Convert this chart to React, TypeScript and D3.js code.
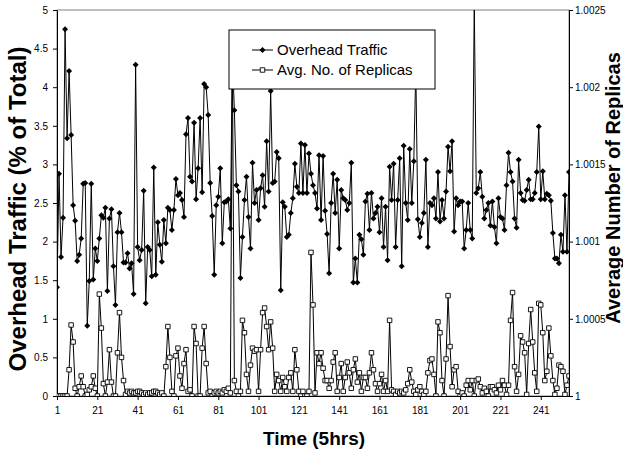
import React, { useEffect, useRef } from 'react';
import * as d3 from 'd3';

// overhead traffic, % of total (left axis), one value per 5hr period
const overhead = [
  1.41, 2.88, 1.8, 2.31, 4.75, 3.34, 4.21, 3.38, 2.47, 2.27,
  1.75, 1.83, 2.04, 2.75, 2.76, 0.91, 1.49, 2.75, 1.51, 1.91,
  1.75, 2.04, 2.34, 2.31, 2.44, 1.36, 2.3, 2.42, 1.68, 1.18,
  2.12, 2.37, 2.12, 1.73, 1.73, 1.85, 1.65, 1.72, 1.32, 4.29,
  1.93, 1.76, 1.89, 2.66, 1.2, 1.93, 1.89, 1.55, 2.96, 1.57,
  2.25, 1.96, 1.74, 2.28, 1.98, 2.44, 2.41, 2.15, 2.41, 2.81,
  2.6, 2.63, 2.54, 2.32, 3.39, 3.6, 2.84, 2.78, 3.54, 2.55,
  2.95, 3.6, 2.64, 4.04, 4.0, 3.64, 2.76, 2.33, 1.57, 2.47,
  2.58, 2.95, 1.98, 2.51, 2.52, 2.55, 2.17, 4.4, 3.7, 2.73,
  2.65, 1.53, 2.06, 2.54, 2.84, 2.32, 1.91, 3.02, 2.5, 2.67,
  2.28, 2.69, 2.86, 2.45, 3.3, 2.65, 3.95, 2.76, 2.78, 3.16,
  3.08, 1.37, 2.51, 2.45, 2.06, 2.09, 2.37, 2.56, 3.01, 2.71,
  2.63, 3.27, 2.63, 3.25, 2.63, 3.14, 2.88, 2.73, 2.63, 2.43,
  3.12, 2.28, 3.11, 2.4, 2.1, 1.59, 2.5, 2.88, 2.37, 2.8,
  1.91, 2.67, 2.56, 2.54, 2.41, 2.5, 3.02, 1.47, 1.78, 1.47,
  2.09, 2.03, 1.83, 2.52, 2.62, 2.15, 2.63, 2.3, 2.37, 2.45,
  2.12, 2.56, 1.93, 2.45, 1.76, 2.97, 2.54, 3.01, 1.93, 2.54,
  3.08, 1.68, 3.24, 2.5, 2.28, 3.2, 2.5, 3.04, 4.24, 2.29,
  2.06, 2.24, 2.37, 3.06, 1.93, 2.5, 2.47, 2.56, 2.3, 2.9,
  2.26, 2.54, 2.3, 2.65, 3.23, 2.91, 3.3, 2.13, 2.56, 2.47,
  2.52, 2.52, 1.91, 2.15, 2.5, 2.15, 2.04, 5.1, 2.63, 2.69,
  2.9, 2.58, 2.3, 2.41, 2.5, 2.21, 2.52, 2.19, 1.98, 2.56,
  2.32, 2.3, 2.15, 2.73, 3.15, 2.9, 2.78, 2.3, 2.18, 3.06,
  2.63, 2.54, 2.53, 2.67, 2.8, 2.55, 2.55, 2.63, 2.9, 3.49,
  2.55, 2.91, 2.55, 2.62, 2.6, 2.53, 2.11, 1.78, 1.78, 1.72,
  2.09, 1.87, 2.6, 1.87, 2.9
];

// average number of replicas (right axis)
const replicas = [
  1, 1, 1, 1, 1, 1, 1.00017, 1.00046, 1.00035, 1.00005,
  1, 1.00006, 1.00013, 1.00006, 1, 1.00001, 1.00004, 1.00006, 1.00013, 1.00005,
  1, 1.00066, 1.00044, 1.00008, 1, 1.00009, 1.0003, 1.00009, 1, 1,
  1.00028, 1.00054, 1.00025, 1.0001, 1.00001, 1.00003, 1.00002, 1.00003, 1.00002, 1.00002,
  1.00003, 1.00003, 1.00002, 1.00001, 1.00002, 1.00001, 1.00002, 1.00002, 1.00003, 1.00003,
  1.00002, 1.00001, 1.00002, 1, 1.00019, 1.00045, 1.00025, 1.00003, 1, 1.00026,
  1.00031, 1.00013, 1.00005, 1.00021, 1.0003, 1.00003, 1.00004, 1, 1.00045, 1.00034,
  1, 1, 1.00031, 1.00045, 1.00021, 1.00002, 1.00003, 1, 1.00002, 1.00003,
  1.00002, 1.00003, 1.00002, 1.00004, 1.00003, 1.00005, 1.00002, 1.0022, 1.0001, 1.00003,
  1, 1.00003, 1.00049, 1.00041, 1.00014, 1.00003, 1.0002, 1.00031, 1.00029, 1.0003,
  1.00003, 1.0003, 1.00054, 1.00057, 1.00045, 1.0003, 1.00048, 1.00031, 1.00003, 1.00014,
  1.0001, 1.00003, 1.00012, 1.00006, 1.00003, 1.00012, 1.00015, 1.00003, 1.0003, 1.00017,
  1.00003, 1, 1.00003, 1, 1, 1.00003, 1.00093, 1.00059, 1.00002, 1.00028,
  1.00021, 1.00028, 1.00018, 1.0001, 1.0001, 1.00005, 1.0001, 1.00022, 1.00028, 1.00003,
  1.00012, 1.00021, 1.00003, 1.00012, 1.00022, 1.00015, 1.00005, 1.00017, 1.00024, 1.00009,
  1.00015, 1.00003, 1.00012, 1.00012, 1.00005, 1.00015, 1.00028, 1.00017, 1.00008, 1.00003,
  1.00008, 1.00014, 1.00003, 1.0001, 1.00003, 1.00049, 1.00004, 1.00003, 1.00001, 1.00003,
  1.00002, 1.00003, 1.00002, 1.00004, 1.00008, 1.00017, 1.00009, 1.00003, 1.00001, 1.00004,
  1.00006, 1.00003, 1.00001, 1.00003, 1.00015, 1.00023, 1.00024, 1.00014, 1, 1.00048,
  1.00041, 1.0001, 1, 1.00024, 1.00065, 1.00032, 1.00006, 1.00017, 1.00019, 1.00003,
  1, 1.00002, 1, 1.00007, 1.0001, 1.00004, 1.0001, 1, 1.0001, 1.00011,
  1.00006, 1.00002, 1.00005, 1.00003, 1, 1.00006, 1.00006, 1.00004, 1.00002, 1.00007,
  1.00004, 1.0001, 1.00007, 1.00001, 1.00007, 1.00049, 1.00067, 1.00019, 1.00003, 1.00014,
  1.00039, 1.00035, 1.00028, 1.00001, 1.00034, 1.00056, 1.00035, 1.00015, 1.00003, 1.0006,
  1.00059, 1.00041, 1.0001, 1.00016, 1.00044, 1.00026, 1.0001, 1.00001, 1.00005, 1.0002,
  1.00019, 1.00016, 1.00001, 1.00007, 1.00013
];

const xTicks = [1, 21, 41, 61, 81, 101, 121, 141, 161, 181, 201, 221, 241];
const leftTicks = [0, 0.5, 1, 1.5, 2, 2.5, 3, 3.5, 4, 4.5, 5];
const rightTicks = [1, 1.0005, 1.001, 1.0015, 1.002, 1.0025];
const legendLabels = ['Overhead Traffic', 'Avg. No. of Replicas'];

const FONT = 'Arial, "Liberation Sans", sans-serif';

export default function App() {
  const svgRef = useRef<SVGSVGElement>(null);

  useEffect(() => {
    document.body.style.margin = '0';
    const svg = d3.select(svgRef.current);
    svg.selectAll('*').remove();

    const left = 57, right = 569, top = 10, bottom = 396;

    const x = d3.scaleLinear().domain([1, 255]).range([left, right]);
    const yL = d3.scaleLinear().domain([0, 5]).range([bottom, top]);
    const yR = d3.scaleLinear().domain([1, 1.0025]).range([bottom, top]);

    svg.append('defs').append('clipPath').attr('id', 'plot')
      .append('rect')
      .attr('x', left).attr('y', top)
      .attr('width', right - left).attr('height', bottom - top);

    // plot area border
    svg.append('rect')
      .attr('x', left).attr('y', top)
      .attr('width', right - left).attr('height', bottom - top)
      .attr('fill', 'white').attr('stroke', '#808080');

    // axes
    const styleAxis = (g) => {
      g.select('.domain').attr('stroke', 'black');
      g.selectAll('line').attr('stroke', 'black');
      g.selectAll('text').attr('font-family', FONT).attr('font-size', 10).attr('fill', 'black');
    };

    svg.append('g')
      .attr('transform', `translate(${left},0)`)
      .call(d3.axisLeft(yL).tickValues(leftTicks).tickSize(4).tickPadding(5).tickSizeOuter(0)
        .tickFormat(d3.format('')))
      .call(styleAxis);

    svg.append('g')
      .attr('transform', `translate(${right},0)`)
      .call(d3.axisRight(yR).tickValues(rightTicks).tickSize(4).tickPadding(2).tickSizeOuter(0)
        .tickFormat((d) => String(+(+d).toFixed(4))))
      .call(styleAxis);

    svg.append('g')
      .attr('transform', `translate(0,${bottom})`)
      .call(d3.axisBottom(x).tickValues(xTicks).tickSize(4).tickPadding(7).tickSizeOuter(0)
        .tickFormat(d3.format('d')))
      .call(styleAxis);

    const plot = svg.append('g').attr('clip-path', 'url(#plot)');

    const lineL = d3.line().x((d, i) => x(i + 1)).y((d) => yL(d));
    const lineR = d3.line().x((d, i) => x(i + 1)).y((d) => yR(d));

    plot.append('path').datum(replicas)
      .attr('d', lineR).attr('fill', 'none').attr('stroke', 'black').attr('stroke-width', 1);
    plot.append('path').datum(overhead)
      .attr('d', lineL).attr('fill', 'none').attr('stroke', 'black').attr('stroke-width', 1);

    const diamond = d3.symbol().type(d3.symbolSquare).size(18)();
    const square = d3.symbol().type(d3.symbolSquare).size(20)();

    plot.selectAll('.ov').data(overhead).enter().append('path')
      .attr('class', 'ov')
      .attr('d', diamond)
      .attr('transform', (d, i) => `translate(${x(i + 1)},${yL(d)}) rotate(45)`)
      .attr('fill', 'black');

    plot.selectAll('.rp').data(replicas).enter().append('path')
      .attr('class', 'rp')
      .attr('d', square)
      .attr('transform', (d, i) => `translate(${x(i + 1)},${yR(d)})`)
      .attr('fill', 'white').attr('stroke', 'black').attr('stroke-width', 0.9);

    // legend
    const lg = svg.append('g');
    lg.append('rect').attr('x', 229).attr('y', 30).attr('width', 206).attr('height', 59)
      .attr('fill', 'white').attr('stroke', 'black');
    legendLabels.forEach((label, k) => {
      const cy = 50 + k * 20;
      lg.append('line').attr('x1', 252).attr('x2', 273).attr('y1', cy).attr('y2', cy)
        .attr('stroke', 'black');
      if (k === 0) {
        lg.append('path').attr('d', diamond).attr('transform', `translate(262.5,${cy}) rotate(45)`)
          .attr('fill', 'black');
      } else {
        lg.append('path').attr('d', square).attr('transform', `translate(262.5,${cy})`)
          .attr('fill', 'white').attr('stroke', 'black').attr('stroke-width', 0.9);
      }
      lg.append('text').attr('x', 277).attr('y', cy).attr('dy', '0.35em')
        .attr('font-family', FONT).attr('font-size', 15).text(label);
    });

    // titles
    svg.append('text')
      .attr('x', 314).attr('y', 445)
      .attr('text-anchor', 'middle')
      .attr('font-family', FONT).attr('font-size', 19).attr('font-weight', 'bold')
      .text('Time (5hrs)');

    svg.append('text')
      .attr('transform', `translate(26,209) rotate(-90)`)
      .attr('text-anchor', 'middle')
      .attr('font-family', FONT).attr('font-size', 24).attr('font-weight', 'bold')
      .text('Overhead Traffic (% of Total)');

    svg.append('text')
      .attr('transform', `translate(620,188) rotate(-90)`)
      .attr('text-anchor', 'middle')
      .attr('font-family', FONT).attr('font-size', 20).attr('font-weight', 'bold')
      .text('Average Number of Replicas');
  }, []);

  return <svg ref={svgRef} width={623} height={452} style={{ display: 'block' }} />;
}
